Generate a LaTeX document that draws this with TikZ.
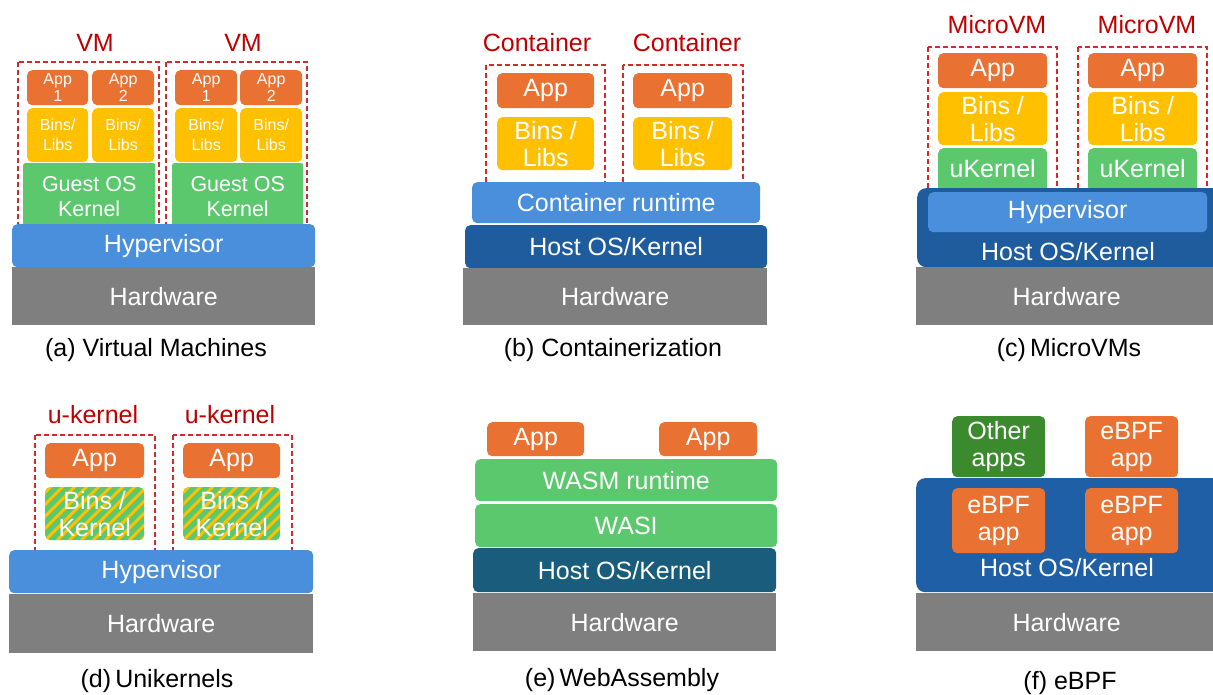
\documentclass[tikz,border=0pt]{standalone}
\usepackage{fontspec}
\setmainfont{Liberation Sans}
\usetikzlibrary{calc}
\definecolor{org}{HTML}{E97132}
\definecolor{ylw}{HTML}{FFC000}
\definecolor{grn}{HTML}{5CC86E}
\definecolor{lblue}{HTML}{4A8FDB}
\definecolor{dblue}{HTML}{1F5C9E}
\definecolor{fblue}{HTML}{1F5FA6}
\definecolor{tealb}{HTML}{1A5C7C}
\definecolor{dgrn}{HTML}{3C8A2E}
\definecolor{hwgray}{HTML}{7F7F7F}
\definecolor{lblred}{HTML}{C00000}
\definecolor{dashred}{HTML}{D42A2A}
% box: name, style, x1, y1, x2, y2, text
\newcommand\bx[7]{\node[#2, anchor=north west, minimum width={(#5-#3)*1pt}, minimum height={(#6-#4)*1pt}] (#1) at (#3,#4) {#7};}
\newcommand\dbox[5]{\draw[dbx] (#2,#3) rectangle (#4,#5); \coordinate (#1) at (#2,#3);}
\begin{document}
\begin{tikzpicture}[x=1pt,y=-1pt,
  blk/.style={rounded corners=5pt, inner sep=0pt, text=white, align=center, font=\fontsize{25}{27}\selectfont},
  sq/.style={blk, rounded corners=0pt},
  small/.style={font=\fontsize{16}{17}\selectfont},
  mid/.style={font=\fontsize{21.5}{25}\selectfont},
  dbx/.style={draw=dashred, line width=1.8pt, dash pattern=on 5pt off 3pt},
  lbl/.style={text=lblred, font=\fontsize{25}{27}\selectfont, inner sep=0pt},
  capt/.style={text=black, font=\fontsize{25}{27}\selectfont, inner sep=0pt},
  hatch/.style={fill=grn, path picture={
     \foreach \k in {-10,...,12}{
       \draw[ylw, line width=3pt] ($(path picture bounding box.south west)+(\k*12pt,0pt)$) -- ++(90pt,90pt);}}}
]
\fill[white] (0,0) rectangle (1213,695);
\useasboundingbox (0,0) rectangle (1213,695);

% ---------------- (a) Virtual Machines
\node[lbl] (avm1) at (95,43) {VM};
\node[lbl] (avm2) at (243,43) {VM};
\dbox{ad1}{18}{62}{159}{228}
\dbox{ad2}{166}{62}{307}{228}
\bx{aa1}{blk,fill=org,small}{27}{70}{88}{105}{App\\1}
\bx{aa2}{blk,fill=org,small}{92}{70}{154}{105}{App\\2}
\bx{aa3}{blk,fill=org,small}{175}{70}{237}{105}{App\\1}
\bx{aa4}{blk,fill=org,small}{240}{70}{302}{105}{App\\2}
\bx{ab1}{blk,fill=ylw,font=\fontsize{16}{20}\selectfont}{27}{108}{88}{162}{Bins/\\Libs}
\bx{ab2}{blk,fill=ylw,font=\fontsize{16}{20}\selectfont}{92}{108}{154}{162}{Bins/\\Libs}
\bx{ab3}{blk,fill=ylw,font=\fontsize{16}{20}\selectfont}{175}{108}{237}{162}{Bins/\\Libs}
\bx{ab4}{blk,fill=ylw,font=\fontsize{16}{20}\selectfont}{240}{108}{302}{162}{Bins/\\Libs}
\bx{ag1}{blk,fill=grn,mid,rounded corners=2pt}{23}{163}{155}{230}{Guest OS\\Kernel}
\bx{ag2}{blk,fill=grn,mid,rounded corners=2pt}{172}{163}{303}{230}{Guest OS\\Kernel}
\bx{ahyp}{blk,fill=lblue}{12}{224}{315}{267}{Hypervisor}
\bx{ahw}{sq,fill=hwgray}{12}{267}{315}{325}{Hardware}
\node[capt] (acap) at (156,350) {(a) Virtual Machines};

% ---------------- (b) Containerization
\node[lbl] (bl1) at (537,43) {Container};
\node[lbl] (bl2) at (687,43) {Container};
\dbox{bd1}{486}{65}{605}{186}
\dbox{bd2}{623}{65}{743}{186}
\bx{ba1}{blk,fill=org}{497}{73}{594}{108}{App}
\bx{ba2}{blk,fill=org}{633}{73}{732}{108}{App}
\bx{bb1}{blk,fill=ylw}{497}{117}{594}{170}{Bins /\\Libs}
\bx{bb2}{blk,fill=ylw}{633}{117}{732}{170}{Bins /\\Libs}
\bx{brt}{blk,fill=lblue}{472}{182}{760}{223}{Container runtime}
\bx{bhost}{blk,fill=dblue}{465}{225}{767}{268}{Host OS/Kernel}
\bx{bhw}{sq,fill=hwgray}{463}{268}{767}{325}{Hardware}
\node[capt] (bcap) at (613,350) {(b) Containerization};

% ---------------- (c) MicroVMs
\node[lbl] (cl1) at (997,25) {MicroVM};
\node[lbl] (cl2) at (1147,25) {MicroVM};
\dbox{cd1}{928}{47}{1057}{192}
\dbox{cd2}{1078}{47}{1207}{192}
\bx{ca1}{blk,fill=org}{938}{53}{1047}{88}{App}
\bx{ca2}{blk,fill=org}{1088}{53}{1197}{88}{App}
\bx{cb1}{blk,fill=ylw}{938}{92}{1047}{145}{Bins /\\Libs}
\bx{cb2}{blk,fill=ylw}{1088}{92}{1197}{145}{Bins /\\Libs}
\bx{ck1}{blk,fill=grn}{938}{148}{1047}{192}{\raisebox{3pt}{uKernel}}
\bx{ck2}{blk,fill=grn}{1088}{148}{1197}{192}{\raisebox{3pt}{uKernel}}
\bx{chost}{blk,fill=dblue,rounded corners=9pt}{917}{188}{1225}{267}{}
\bx{chyp}{blk,fill=lblue}{928}{192}{1207}{232}{\raisebox{-2pt}{Hypervisor}}
\node[blk] (chostt) at (1068,252) {Host OS/Kernel};
\bx{chw}{sq,fill=hwgray}{916}{267}{1213}{325}{\hspace*{4pt}Hardware}
\node[capt] (ccap) at (1069,350) {(c)\,MicroVMs};

% ---------------- (d) Unikernels
\node[lbl] (dl1) at (93,415) {u-kernel};
\node[lbl] (dl2) at (230,415) {u-kernel};
\dbox{dd1}{35}{435}{155}{554}
\dbox{dd2}{173}{435}{292}{554}
\bx{da1}{blk,fill=org}{45}{443}{144}{478}{App}
\bx{da2}{blk,fill=org}{183}{443}{280}{478}{App}
\bx{db1}{blk,hatch}{45}{487}{144}{540}{Bins /\\Kernel}
\bx{db2}{blk,hatch}{183}{487}{280}{540}{Bins /\\Kernel}
\bx{dhyp}{blk,fill=lblue}{9}{550}{313}{593}{Hypervisor}
\bx{dhw}{sq,fill=hwgray}{9}{594}{313}{653}{Hardware}
\node[capt] (dcap) at (157,681) {(d)\,Unikernels};

% ---------------- (e) WebAssembly
\bx{ea1}{blk,fill=org}{487}{422}{584}{456}{App}
\bx{ea2}{blk,fill=org}{659}{422}{757}{456}{App}
\bx{ewasm}{blk,fill=grn}{475}{459}{777}{501}{WASM runtime}
\bx{ewasi}{blk,fill=grn}{475}{504}{777}{547}{WASI}
\bx{ehost}{blk,fill=tealb}{473}{548}{776}{592}{Host OS/Kernel}
\bx{ehw}{sq,fill=hwgray}{473}{593}{776}{651}{Hardware}
\node[capt] (ecap) at (622,680) {(e)\,WebAssembly};

% ---------------- (f) eBPF
\bx{fo}{blk,fill=dgrn}{952}{416}{1045}{477}{Other\\apps}
\bx{fe1}{blk,fill=org}{1085}{416}{1178}{477}{eBPF\\app}
\bx{fhost}{blk,fill=fblue,rounded corners=9pt}{916}{478}{1225}{592}{}
\bx{fe2}{blk,fill=org}{952}{488}{1045}{553}{eBPF\\app}
\bx{fe3}{blk,fill=org}{1085}{488}{1178}{553}{eBPF\\app}
\node[blk] (fhostt) at (1067,568) {Host OS/Kernel};
\bx{fhw}{sq,fill=hwgray}{916}{593}{1213}{651}{\hspace*{4pt}Hardware}
\node[capt] (fcap) at (1070,683) {(f) eBPF};
\end{tikzpicture}
\end{document}
